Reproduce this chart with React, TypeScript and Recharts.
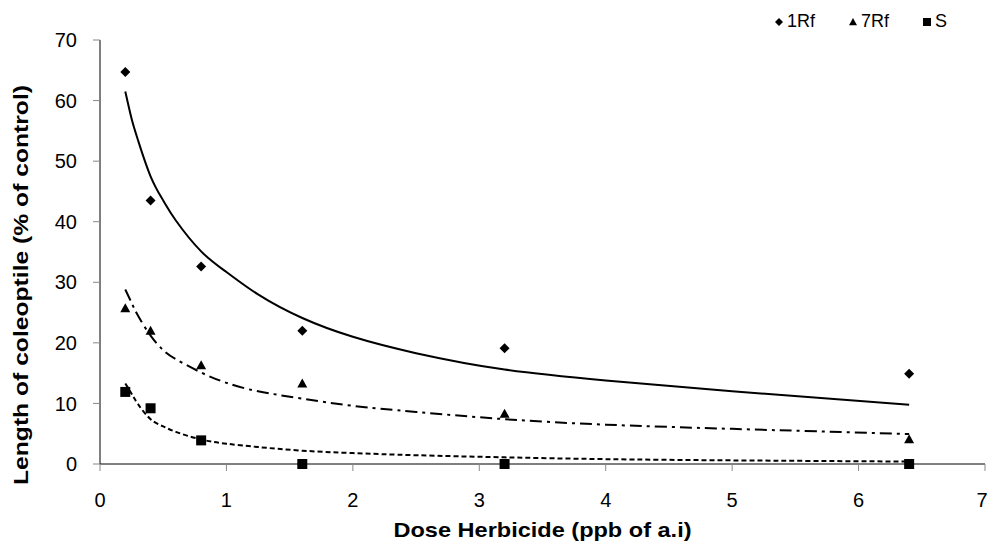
import {
  ComposedChart,
  Line,
  Scatter,
  XAxis,
  YAxis,
} from "recharts";

// observed points
const doses = [0.2, 0.4, 0.8, 1.6, 3.2, 6.4];
const rf1 = [64.7, 43.5, 32.6, 22.0, 19.1, 14.9];
const rf7 = [25.7, 22.0, 16.3, 13.3, 8.3, 4.1];
const sens = [11.9, 9.2, 3.9, 0, 0, 0];

// fitted curves
const fitX = [0.2, 0.25, 0.3, 0.4, 0.5, 0.6, 0.8, 1.0, 1.25, 1.6, 2.0, 2.5, 3.2, 4.0, 5.0, 6.4];
const fitRf1 = [61.5, 57.0, 53.5, 47.5, 43.5, 40.2, 35.1, 31.7, 28.0, 24.1, 21.0, 18.3, 15.6, 13.8, 12.0, 9.8];
const fitRf7 = [28.8, 26.6, 24.5, 21.2, 18.8, 17.3, 15.1, 13.4, 12.0, 10.8, 9.6, 8.6, 7.4, 6.5, 5.8, 4.95];
const fitS = [13.3, 11.6, 9.9, 7.4, 6.2, 5.3, 4.05, 3.35, 2.8, 2.2, 1.8, 1.45, 1.1, 0.8, 0.6, 0.4];

const xTicks = [0, 1, 2, 3, 4, 5, 6, 7];
const yTicks = [0, 10, 20, 30, 40, 50, 60, 70];
const seriesNames = ["1Rf", "7Rf", "S"];

const toPts = (xs: number[], ys: number[]) => xs.map((x, i) => ({ x, y: ys[i] }));

type Kind = "diamond" | "triangle" | "square";

function marker(kind: Kind, cx: number, cy: number, r = 5) {
  if (kind === "diamond")
    return <polygon points={`${cx},${cy - r} ${cx + r},${cy} ${cx},${cy + r} ${cx - r},${cy}`} fill="#000" />;
  if (kind === "triangle")
    return <polygon points={`${cx},${cy - r} ${cx + r},${cy + r * 0.8} ${cx - r},${cy + r * 0.8}`} fill="#000" />;
  return <rect x={cx - r} y={cy - r} width={r * 2} height={r * 2} fill="#000" />;
}

const shapeFor = (kind: Kind) => (p: any) => marker(kind, p.cx, p.cy);

const kinds: Kind[] = ["diamond", "triangle", "square"];

function LegendIcon({ kind }: { kind: Kind }) {
  return (
    <svg width={10} height={10} style={{ marginRight: 3 }}>
      {marker(kind, 5, 5, 4)}
    </svg>
  );
}

export default function App() {
  return (
    <div style={{ position: "absolute", left: 0, top: 0, width: 987, height: 545, fontFamily: "'Liberation Sans', Arial, sans-serif", background: "#fff" }}>
      <ComposedChart width={987} height={545} margin={{ top: 40, right: 2, bottom: 0, left: 0 }}>
        <XAxis
          type="number"
          dataKey="x"
          domain={[0, 7]}
          ticks={xTicks}
          height={81}
          stroke="#000"
          tickSize={7}
          tickMargin={22}
          tickLine={{ stroke: "#888" }}
          tick={{ fontSize: 20, fill: "#000" }}
          label={(props: any) => {
            const vb = props.viewBox;
            return (
              <text
                x={vb.x + vb.width / 2}
                y={537}
                textAnchor="middle"
                fontSize={21}
                fontWeight="bold"
                textLength={298}
                lengthAdjust="spacingAndGlyphs"
                fill="#000"
              >
                Dose Herbicide (ppb of a.i)
              </text>
            );
          }}
        />
        <YAxis
          type="number"
          domain={[0, 70]}
          ticks={yTicks}
          width={100}
          stroke="#000"
          tickSize={7}
          tickMargin={16}
          tickLine={{ stroke: "#888" }}
          tick={{ fontSize: 20, fill: "#000" }}
          label={() => (
            <text
              x={28}
              y={285}
              transform="rotate(-90 28 285)"
              textAnchor="middle"
              fontSize={20}
              fontWeight="bold"
              textLength={400}
              lengthAdjust="spacingAndGlyphs"
              fill="#000"
            >
              Length of coleoptile (% of control)
            </text>
          )}
        />
        <Line data={toPts(fitX, fitRf1)} dataKey="y" type="natural" stroke="#000" strokeWidth={2} dot={false} isAnimationActive={false} />
        <Line data={toPts(fitX, fitRf7)} dataKey="y" type="natural" stroke="#000" strokeWidth={2} strokeDasharray="12 5 3 5" dot={false} isAnimationActive={false} />
        <Line data={toPts(fitX, fitS)} dataKey="y" type="natural" stroke="#000" strokeWidth={2} strokeDasharray="5 3" dot={false} isAnimationActive={false} />
        <Scatter name="1Rf" data={toPts(doses, rf1)} dataKey="y" shape={shapeFor("diamond")} isAnimationActive={false} />
        <Scatter name="7Rf" data={toPts(doses, rf7)} dataKey="y" shape={shapeFor("triangle")} isAnimationActive={false} />
        <Scatter name="S" data={toPts(doses, sens)} dataKey="y" shape={shapeFor("square")} isAnimationActive={false} />
      </ComposedChart>
      <div style={{ position: "absolute", left: 774, top: 11, display: "flex", alignItems: "center", fontSize: 18, color: "#000" }}>
        {seriesNames.map((n, i) => (
          <div key={n} style={{ display: "flex", alignItems: "center", marginRight: i < 2 ? 33 : 0 }}>
            <LegendIcon kind={kinds[i]} />
            <span>{n}</span>
          </div>
        ))}
      </div>
    </div>
  );
}
